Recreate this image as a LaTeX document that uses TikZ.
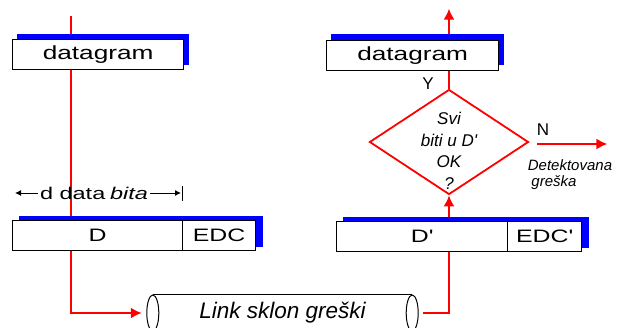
\documentclass[tikz,border=0pt]{standalone}
\usepackage{fontspec}
\setmainfont{Liberation Sans}[Ligatures=TeXOff]
\usepackage{graphicx}
\usetikzlibrary{shapes.geometric,arrows.meta}
\pgfdeclarelayer{lines}
\pgfdeclarelayer{shadow}
\pgfsetlayers{lines,shadow,main}
\newcommand\sx[1]{\scalebox{1.38}[1]{#1}}
\begin{document}
\begin{tikzpicture}[x=1pt,y=-1pt,
  box/.style={draw=black,line width=1.3pt,fill=white,rectangle,inner sep=0pt,anchor=north west,minimum height=30pt,font=\fontsize{18}{20}\selectfont},
  shadowfill/.style={fill=blue},
  redl/.style={draw=red,line width=2pt},
  redarrow/.style={redl,-{Latex[length=11pt,width=11pt]}},
  thinarrow/.style={draw=black,line width=0.9pt,-{Latex[length=6pt,width=6pt]}},
  cyl/.style={draw=black,line width=1pt},
  ital/.style={font=\itshape\fontsize{#1}{#1}\selectfont},
  lbl/.style={font=\fontsize{17}{20}\selectfont,inner sep=0pt}]
\useasboundingbox (0,0) rectangle (618,327);

% boxes
\node[box,minimum width=171pt,font=\fontsize{19}{22}\selectfont] (dgL) at (12,39) {\sx{datagram}};
\node[box,minimum width=172pt,font=\fontsize{19}{22}\selectfont] (dgR) at (326,40) {\sx{datagram}};
\node[box,minimum width=170pt] (DL) at (12,220) {\sx{D}};
\node[box,minimum width=73pt] (EL) at (182,220) {\sx{EDC}};
\node[box,minimum width=171pt] (DR) at (336,221) {\sx{D'}};
\node[box,minimum width=74pt] (ER) at (507,221) {\sx{EDC'}};

% diamond
\node[diamond,draw=red,line width=1.8pt,minimum width=159pt,minimum height=105pt,inner sep=0pt] (dia) at (449,142) {};
\node[align=center,inner sep=0pt,font=\itshape\fontsize{17}{21.5}\selectfont] (q) at (449,151) {Svi\\biti u D'\\OK\\?};
\node[lbl] (Y) at (428,84) {Y};
\node[lbl] (N) at (543,130) {N};
\node[ital=15,inner sep=0pt] (det) at (570,165) {Detektovana};
\node[ital=15,inner sep=0pt] (gr) at (554,183) {greška};
\coordinate (Ns) at ([xshift=8pt,yshift=-2pt]dia.east);
\coordinate (Ne) at ([xshift=78pt,yshift=-2pt]dia.east);
\draw[redarrow] (Ns) -- (Ne);

% d data bita
\node[font=\fontsize{17}{20}\selectfont,inner sep=2pt] (dd) at (94,193) {\sx{d data} \sx{\itshape bita}};
\coordinate (ddl) at (15,193);
\coordinate (ddr) at (181,193);
\draw[thinarrow] (dd.west) -- (ddl);
\draw[thinarrow] (dd.east) -- (ddr);
\coordinate (bart) at (182,186);
\coordinate (barb) at (182,201);
\draw[black,line width=0.9pt] (bart) -- (barb);

% link cylinder
\node[minimum width=259pt,minimum height=36pt,inner sep=0pt,ital=22.5] (link) at (282.5,313) {Link sklon greški};
\draw[cyl] (link.north west) -- (link.north east);
\draw[cyl] (link.south west) -- (link.south east);
\draw[cyl,fill=white] (link.west) ellipse [x radius=6pt,y radius=18pt];
\draw[cyl,fill=white] (link.east) ellipse [x radius=6pt,y radius=18pt];

% shadows
\begin{pgfonlayer}{shadow}
\fill[shadowfill] ([shift={(5pt,5pt)}]dgL.south west) rectangle ([shift={(5pt,5pt)}]dgL.north east);
\fill[shadowfill] ([shift={(5pt,6pt)}]dgR.south west) rectangle ([shift={(5pt,6pt)}]dgR.north east);
\fill[shadowfill] ([shift={(7pt,4pt)}]DL.south west) rectangle ([shift={(7pt,4pt)}]EL.north east);
\fill[shadowfill] ([shift={(7pt,4pt)}]DR.south west) rectangle ([shift={(7pt,4pt)}]ER.north east);
\end{pgfonlayer}

% red lines
\begin{pgfonlayer}{lines}
\coordinate (topL) at (71,16);
\draw[redarrow] (topL) |- ([xshift=-11pt]link.west);
\draw[redarrow] ([xshift=11pt]link.east) -| (dia.south);
\draw[redarrow] (dia.north) -- ++(0,-80);
\end{pgfonlayer}
\end{tikzpicture}
\end{document}
